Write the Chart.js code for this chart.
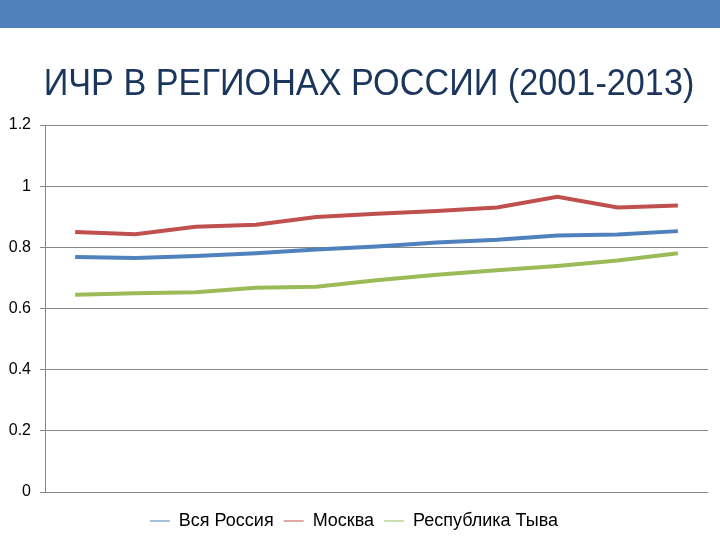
<!DOCTYPE html>
<html>
<head>
<meta charset="utf-8">
<style>
html,body{margin:0;padding:0;background:#fff;}
#wrap{position:relative;width:720px;height:540px;}
</style>
<script src="https://cdn.jsdelivr.net/npm/chart.js@4/dist/chart.umd.min.js"></script>
</head>
<body>
<div id="wrap"><canvas id="c" width="720" height="540"></canvas></div>
<script>
const titleText = "ИЧР В РЕГИОНАХ РОССИИ (2001-2013)";
const categories = ["2001","2002","2003","2004","2005","2006","2007","2008","2009","2010","2011"];
const seriesNames = ["Вся Россия","Москва","Республика Тыва"];
const russia = [0.768,0.765,0.772,0.781,0.793,0.803,0.816,0.825,0.839,0.842,0.853];
const moscow = [0.850,0.843,0.867,0.874,0.899,0.910,0.919,0.930,0.965,0.930,0.937];
const tuva   = [0.645,0.650,0.653,0.668,0.671,0.692,0.710,0.725,0.739,0.757,0.781];
const yTicks = [0,0.2,0.4,0.6,0.8,1,1.2];

const colors = ["#4F81BD","#C0504D","#9BBB59"];

const decor = {
  id:'decor',
  beforeDraw(chart){
    const ctx = chart.ctx;
    ctx.save();
    ctx.fillStyle = '#4F81BD';
    ctx.fillRect(0,0,720,28);
    ctx.fillStyle = '#1B365D';
    ctx.font = '37px "Liberation Sans", Arial, sans-serif';
    ctx.textAlign = 'center';
    ctx.textBaseline = 'alphabetic';
    ctx.translate(369, 94.5);
    ctx.scale(0.925, 1);
    ctx.fillText(titleText, 0, 0);
    ctx.restore();
  }
};

new Chart(document.getElementById('c'), {
  type:'line',
  data:{
    labels: categories,
    datasets:[russia,moscow,tuva].map((d,i)=>({
      label: seriesNames[i],
      data: d,
      borderColor: colors[i],
      backgroundColor: colors[i],
      borderWidth: 4,
      pointRadius: 0,
      tension: 0,
      fill: false
    }))
  },
  options:{
    responsive:false,
    animation:false,
    locale:'en-US',
    layout:{padding:{top:125,right:12,left:0,bottom:0}},
    plugins:{
      title:{display:false},
      tooltip:{enabled:false},
      legend:{
        position:'bottom',
        labels:{
          font:{family:'"Liberation Sans", Arial, sans-serif', size:18},
          color:'#000',
          boxWidth:20,
          boxHeight:1,
          padding:10,
          generateLabels(chart){
            return chart.data.datasets.map((ds,i)=>({
              text: ds.label,
              fillStyle: ds.borderColor,
              strokeStyle: ds.borderColor,
              lineWidth: 0,
              hidden: false,
              datasetIndex: i,
              fontColor:'#000'
            }));
          }
        }
      }
    },
    scales:{
      x:{
        offset:true,
        grid:{display:false},
        border:{display:false},
        ticks:{display:false},
        afterFit(s){ s.height = 10; }
      },
      y:{
        min:0,max:1.2,
        afterBuildTicks(s){ s.ticks = yTicks.map(v=>({value:v})); },
        ticks:{
          font:{family:'"Liberation Sans", Arial, sans-serif', size:16},
          color:'#000',
          padding:9,
          callback(v){ return String(Math.round(v*10)/10); }
        },
        grid:{color:'#868686',lineWidth:1,tickLength:5},
        border:{color:'#868686',width:1},
        afterFit(s){ s.width = 45; }
      }
    }
  },
  plugins:[decor]
});
</script>
</body>
</html>
